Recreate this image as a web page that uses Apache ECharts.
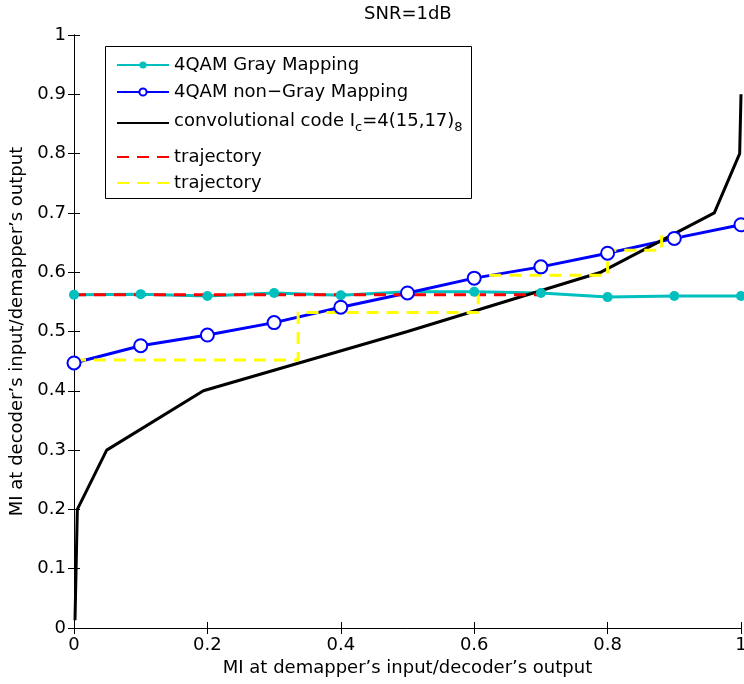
<!DOCTYPE html>
<html>
<head>
<meta charset="utf-8">
<script src="https://cdn.jsdelivr.net/npm/echarts@6/dist/echarts.min.js"></script>
<style>html,body{margin:0;padding:0;background:#fff;overflow:hidden;}#c{width:744px;height:684px;}</style>
</head>
<body>
<div id="c"></div>
<script>
// ---- data ----
const xTicks = [0, 0.2, 0.4, 0.6, 0.8, 1];
const yTicks = [0, 0.1, 0.2, 0.3, 0.4, 0.5, 0.6, 0.7, 0.8, 0.9, 1];
const mapX = [0, 0.1, 0.2, 0.3, 0.4, 0.5, 0.6, 0.7, 0.8, 0.9, 1];
const grayY = [0.562, 0.563, 0.560, 0.565, 0.561, 0.567, 0.567, 0.565, 0.558, 0.560, 0.560];
const nonGrayY = [0.447, 0.476, 0.494, 0.515, 0.541, 0.565, 0.590, 0.609, 0.632, 0.657, 0.680];
const codeX = [0.0015, 0.005, 0.049, 0.194, 0.5, 0.79, 0.96, 0.998, 1];
const codeY = [0.013, 0.2, 0.3, 0.4, 0.5, 0.6, 0.7, 0.8, 0.9];
const redX = [0, 0.7];
const redY = [0.562, 0.562];
const yellowX = [0, 0.336, 0.336, 0.606, 0.606, 0.8, 0.8, 0.881, 0.881, 0.92];
const yellowY = [0.452, 0.452, 0.532, 0.532, 0.595, 0.595, 0.637, 0.637, 0.662, 0.662];
const labels = {
  gray: '4QAM Gray Mapping',
  nongray: '4QAM non\u2212Gray Mapping',
  code: '{n|convolutional code I}{sub|c}{n|=4(15,17)}{sub|8}',
  trajRed: 'trajectory',
  trajYellow: 'trajectory'
};
const titleText = 'SNR=1dB';
const xName = 'MI at demapper\u2019s input/decoder\u2019s output';
const yName = 'MI at decoder\u2019s input/demapper\u2019s output';

// ---- chart ----
const FONT = 'DejaVu Sans';
const pairs = (xs, ys) => xs.map((x, i) => [x, ys[i]]);
const axisCommon = {
  type: 'value',
  axisLine: { show: true, lineStyle: { color: '#000', width: 1 } },
  axisTick: { show: true, inside: true, length: 6, lineStyle: { color: '#000', width: 1 } },
  splitLine: { show: false }
};
const legendText = {
  fontFamily: FONT, fontSize: 18, color: '#000', lineHeight: 22,
  rich: {
    n: { fontFamily: FONT, fontSize: 18, color: '#000', lineHeight: 22, verticalAlign: 'top' },
    sub: { fontFamily: FONT, fontSize: 13, color: '#000', lineHeight: 14, padding: [13, 0, 0, 0], verticalAlign: 'bottom' }
  }
};
const legendCommon = {
  orient: 'vertical', left: 105, align: 'left',
  itemWidth: 52, itemHeight: 9,
  formatter: n => labels[n],
  textStyle: legendText
};
const hideSym = { opacity: 0 };
const dash = [12, 8];
const chart = echarts.init(document.getElementById('c'), null, { renderer: 'canvas' });
chart.setOption({
  animation: false,
  backgroundColor: '#fff',
  title: {
    text: titleText, left: 364, top: 5, padding: 0,
    textStyle: { fontFamily: FONT, fontSize: 18, fontWeight: 'normal', color: '#000' }
  },
  grid: { left: 74, right: 3, top: 35, bottom: 56, containLabel: false, outerBoundsMode: 'none' },
  xAxis: [
    Object.assign({}, axisCommon, {
      min: xTicks[0], max: xTicks[xTicks.length - 1], interval: xTicks[1] - xTicks[0],
      position: 'bottom',
      axisLabel: { color: '#000', fontFamily: FONT, fontSize: 18, margin: 8 },
      name: xName, nameLocation: 'middle', nameGap: 30,
      nameTextStyle: { color: '#000', fontFamily: FONT, fontSize: 18 }
    }),
    Object.assign({}, axisCommon, {
      min: xTicks[0], max: xTicks[xTicks.length - 1], interval: xTicks[1] - xTicks[0],
      position: 'top', axisLabel: { show: false }
    })
  ],
  yAxis: [
    Object.assign({}, axisCommon, {
      min: yTicks[0], max: yTicks[yTicks.length - 1], interval: 0.1,
      position: 'left',
      axisLabel: { color: '#000', fontFamily: FONT, fontSize: 18, margin: 8 },
      name: yName, nameLocation: 'middle', nameGap: 46,
      nameTextStyle: { color: '#000', fontFamily: FONT, fontSize: 18 }
    }),
    Object.assign({}, axisCommon, {
      min: yTicks[0], max: yTicks[yTicks.length - 1], interval: 0.1,
      position: 'right', axisLabel: { show: false }
    })
  ],
  graphic: [{
    type: 'rect', z: 3, silent: true,
    shape: { x: 105.5, y: 46.5, width: 366, height: 152 },
    style: { fill: '#fff', stroke: '#000', lineWidth: 1 }
  }],
  legend: [
    Object.assign({}, legendCommon, {
      top: 46, padding: [8, 0, 0, 11], itemGap: 5,
      data: ['gray', 'nongray', { name: 'code', itemStyle: hideSym }]
    }),
    Object.assign({}, legendCommon, {
      top: 146, padding: [0, 0, 0, 11], itemGap: 4,
      data: [{ name: 'trajRed', itemStyle: hideSym }, { name: 'trajYellow', itemStyle: hideSym }]
    })
  ],
  series: [
    {
      name: 'gray', type: 'line',
      data: pairs(mapX, grayY), color: '#00BFBF',
      lineStyle: { color: '#00BFBF', width: 3 },
      symbol: 'circle', symbolSize: 10, showSymbol: true,
      itemStyle: { color: '#00BFBF' }
    },
    {
      name: 'nongray', type: 'line',
      data: pairs(mapX, nonGrayY), color: '#0000FF',
      lineStyle: { color: '#0000FF', width: 3 },
      symbol: 'emptyCircle', symbolSize: 13, showSymbol: true,
      itemStyle: { color: '#0000FF', borderColor: '#0000FF', borderWidth: 2.5 }
    },
    {
      name: 'code', type: 'line',
      data: pairs(codeX, codeY), color: '#000',
      lineStyle: { color: '#000', width: 3 },
      symbol: 'none'
    },
    {
      name: 'trajRed', type: 'line',
      data: pairs(redX, redY), color: '#FF0000',
      lineStyle: { color: '#FF0000', width: 3, type: dash },
      symbol: 'none'
    },
    {
      name: 'trajYellow', type: 'line',
      data: pairs(yellowX, yellowY), color: '#FFFF00',
      lineStyle: { color: '#FFFF00', width: 3, type: dash },
      symbol: 'none'
    }
  ]
});
</script>
</body>
</html>
